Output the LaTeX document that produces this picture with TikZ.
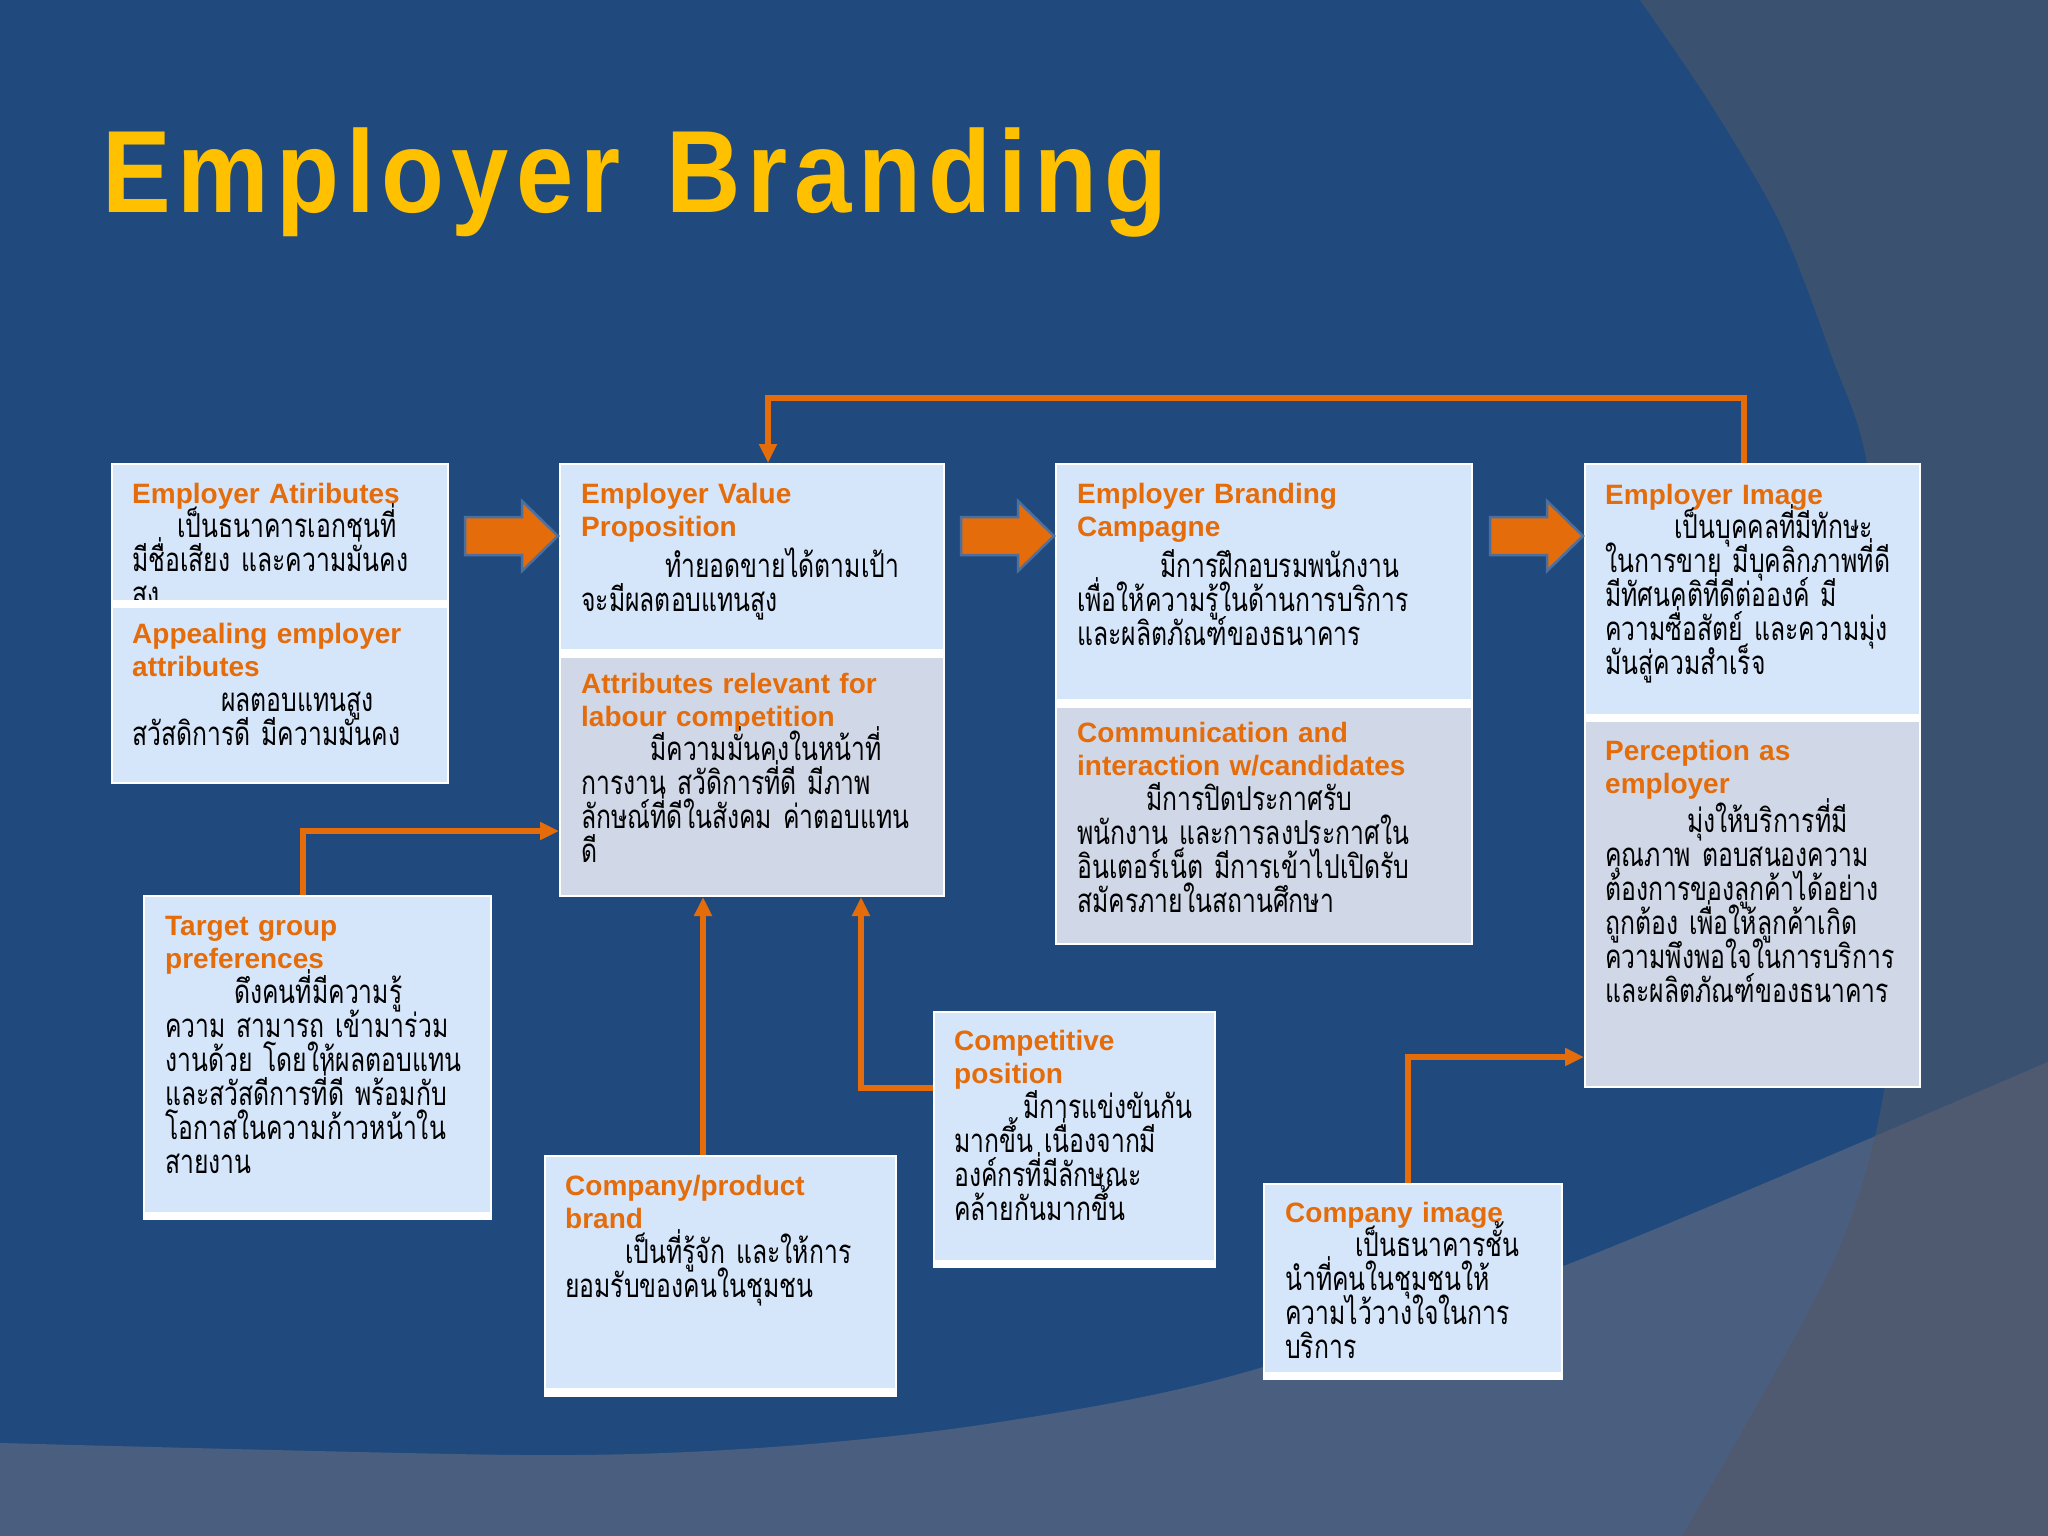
\documentclass[tikz,border=0pt]{standalone}
\usepackage{fontspec}
\usetikzlibrary{arrows.meta}
\newfontfamily\thaifont[Script=Thai,FakeStretch=0.75]{Loma}
\newfontfamily\hfont{Liberation Sans}
\newfontfamily\tfont[FakeStretch=0.88,LetterSpace=6]{Liberation Sans}
\newcommand\nolskip{\lineskiplimit=-100pt\relax}
\definecolor{bgbase}{RGB}{32,74,126}
\definecolor{bgright}{RGB}{59,81,112}
\definecolor{bgband}{RGB}{74,95,127}
\definecolor{bgdark}{RGB}{79,90,113}
\definecolor{boxlight}{RGB}{214,230,250}
\definecolor{boxgray}{RGB}{208,216,232}
\definecolor{orng}{RGB}{228,108,10}
\definecolor{titleyellow}{RGB}{255,192,0}
\definecolor{arrowedge}{RGB}{75,112,160}
\tikzset{
  outerbox/.style={fill=white, draw=none, inner sep=0pt, outer sep=0pt, anchor=north west},
  hd/.style={anchor=base west, inner sep=0pt, text width=420pt, align=left, text=orng,
     font=\hfont\bfseries\fontsize{28}{33.5}\selectfont, execute at begin node=\nolskip},
  th/.style={anchor=base west, inner sep=0pt, text width=480pt, align=left, text=black,
     font=\thaifont\fontsize{33}{34}\selectfont, execute at begin node=\nolskip},
  conn/.style={draw=orng, line width=6.5pt, -{Triangle[length=19pt,width=17pt]}},
  blockarrow/.style={fill=orng, draw=arrowedge, line width=2.5pt, line join=miter}
}
\begin{document}
\begin{tikzpicture}[x=1pt,y=-1pt]
\useasboundingbox (0,0) rectangle (2048,1536);
% background
\fill[bgbase] (0,0) rectangle (2048,1536);
\fill[bgright] plot[smooth] coordinates {(1640,0) (1710,103) (1780,223) (1832,357) (1867,464) (1890,700) (1893,900) (1884,1091) (1832,1265) (1682,1536)} -- (2048,1536) -- (2048,0) -- cycle;
\fill[bgband] plot[smooth] coordinates {(0,1443) (522,1455) (758,1448) (980,1425) (1228,1377) (1566,1265) (2048,1062)} -- (2048,1536) -- (0,1536) -- cycle;
\begin{scope}
\clip plot[smooth] coordinates {(0,1443) (522,1455) (758,1448) (980,1425) (1228,1377) (1566,1265) (2048,1062)} -- (2048,1536) -- (0,1536) -- cycle;
\fill[bgdark] plot[smooth] coordinates {(1640,0) (1710,103) (1780,223) (1832,357) (1867,464) (1890,700) (1893,900) (1884,1091) (1832,1265) (1682,1536)} -- (2048,1536) -- (2048,0) -- cycle;
\end{scope}

% title
\node[anchor=base west, inner sep=0pt, text=titleyellow, font=\tfont\bfseries\fontsize{117}{120}\selectfont] (title) at (102,212) {Employer\hspace{10pt} Branding};

% ---------- Box EA
\node[outerbox, minimum width=338pt, minimum height=321pt] (ea) at (111,463) {};
\fill[boxlight] (113,465) rectangle (447,600);
\node[hd] (eah) at (132,503) {Employer Atiributes};
\node[th] (eat) at (132,537) {\hspace*{45pt}เป็นธนาคารเอกชนที่\\มีชื่อเสียง และความมั่นคง\\สูง};
\fill[white] (113,600) rectangle (447,608);
\fill[boxlight] (113,608) rectangle (447,782);
\node[hd] (eah2) at (132,643) {Appealing employer\\attributes};
\node[th] (eat2) at (132,711) {\hspace*{89pt}ผลตอบแทนสูง\\สวัสดิการดี มีความมั่นคง};

% ---------- Box EVP
\node[outerbox, minimum width=386pt, minimum height=434pt] (evp) at (559,463) {};
\fill[boxlight] (561,465) rectangle (943,649);
\fill[boxgray] (561,658) rectangle (943,895);
\node[hd] (evph) at (581,503) {Employer Value\\Proposition};
\node[th] (evpt) at (581,577) {\hspace*{84pt}ทำยอดขายได้ตามเป้า\\จะมีผลตอบแทนสูง};
\node[hd] (evph2) at (581,693) {Attributes relevant for\\labour competition};
\node[th] (evpt2) at (581,760) {\hspace*{69pt}มีความมั่นคงในหน้าที่\\การงาน สวัดิการที่ดี มีภาพ\\ลักษณ์ที่ดีในสังคม ค่าตอบแทน\\ดี};

% ---------- Box EBC
\node[outerbox, minimum width=418pt, minimum height=482pt] (ebc) at (1055,463) {};
\fill[boxlight] (1057,465) rectangle (1471,699);
\fill[boxgray] (1057,708) rectangle (1471,943);
\node[hd] (ebch) at (1077,503) {Employer Branding\\Campagne};
\node[th] (ebct) at (1077,577) {\hspace*{83pt}มีการฝึกอบรมพนักงาน\\เพื่อให้ความรู้ในด้านการบริการ\\และผลิตภัณฑ์ของธนาคาร};
\node[hd] (ebch2) at (1077,742) {Communication and\\interaction w/candidates};
\node[th] (ebct2) at (1077,810) {\hspace*{69pt}มีการปิดประกาศรับ\\พนักงาน และการลงประกาศใน\\อินเตอร์เน็ต มีการเข้าไปเปิดรับ\\สมัครภายในสถานศึกษา};

% ---------- Box EI
\node[outerbox, minimum width=337pt, minimum height=625pt] (ei) at (1584,463) {};
\fill[boxlight] (1586,465) rectangle (1919,714);
\fill[boxgray] (1586,722) rectangle (1919,1086);
\node[hd] (eih) at (1605,504) {Employer Image};
\node[th] (eit) at (1605,538) {\hspace*{69pt}เป็นบุคคลที่มีทักษะ\\ในการขาย มีบุคลิกภาพที่ดี\\มีทัศนคติที่ดีต่อองค์ มี\\ความซื่อสัตย์ และความมุ่ง\\มันสู่ควมสำเร็จ};
\node[hd] (eih2) at (1605,760) {Perception as\\employer};
\node[th] (eit2) at (1605,832) {\hspace*{82pt}มุ่งให้บริการที่มี\\คุณภาพ ตอบสนองความ\\ต้องการของลูกค้าได้อย่าง\\ถูกต้อง เพื่อให้ลูกค้าเกิด\\ความพึงพอใจในการบริการ\\และผลิตภัณฑ์ของธนาคาร};

% ---------- Box TG
\node[outerbox, minimum width=349pt, minimum height=325pt] (tg) at (143,895) {};
\fill[boxlight] (145,897) rectangle (490,1212);
\node[hd] (tgh) at (165,935) {Target group\\preferences};
\node[th] (tgt) at (165,1003) {\hspace*{69pt}ดึงคนที่มีความรู้\\ความ สามารถ เข้ามาร่วม\\งานด้วย โดยให้ผลตอบแทน\\และสวัสดีการที่ดี พร้อมกับ\\โอกาสในความก้าวหน้าใน\\สายงาน};

% ---------- Box CPB
\node[outerbox, minimum width=353pt, minimum height=242pt] (cpb) at (544,1155) {};
\fill[boxlight] (546,1157) rectangle (895,1388);
\node[hd] (cpbh) at (565,1195) {Company/product\\brand};
\node[th] (cpbt) at (565,1263) {\hspace*{60pt}เป็นที่รู้จัก และให้การ\\ยอมรับของคนในชุมชน};

% ---------- Box CP
\node[outerbox, minimum width=283pt, minimum height=257pt] (cp) at (933,1011) {};
\fill[boxlight] (935,1013) rectangle (1214,1260);
\node[hd] (cph) at (954,1050) {Competitive\\position};
\node[th] (cpt) at (954,1118) {\hspace*{69pt}มีการแข่งขันกัน\\มากขึ้น เนื่องจากมี\\องค์กรที่มีลักษณะ\\คล้ายกันมากขึ้น};

% ---------- Box CI
\node[outerbox, minimum width=300pt, minimum height=197pt] (ci) at (1263,1183) {};
\fill[boxlight] (1265,1185) rectangle (1561,1372);
\node[hd] (cih) at (1285,1222) {Company image};
\node[th] (cit) at (1285,1256) {\hspace*{70pt}เป็นธนาคารชั้น\\นำที่คนในชุมชนให้\\ความไว้วางใจในการ\\บริการ};

% ---------- block arrows
\begin{scope}[shift={(evp.west |- 0,536)}]
\filldraw[blockarrow] (-1,0) -- (-37,-35) -- (-37,-19) -- (-94,-19) -- (-94,19) -- (-37,19) -- (-37,35) -- cycle;
\end{scope}
\begin{scope}[shift={(ebc.west |- 0,536)}]
\filldraw[blockarrow] (-1,0) -- (-37,-35) -- (-37,-19) -- (-94,-19) -- (-94,19) -- (-37,19) -- (-37,35) -- cycle;
\end{scope}
\begin{scope}[shift={(ei.west |- 0,536)}]
\filldraw[blockarrow] (-1,0) -- (-37,-35) -- (-37,-19) -- (-94,-19) -- (-94,19) -- (-37,19) -- (-37,35) -- cycle;
\end{scope}

% ---------- connectors
\coordinate (loopR) at (1744,398);
\coordinate (loopL) at (768,398);
\draw[conn] (ei.north -| loopR) -- (loopR) -- (loopL) -- (loopL |- evp.north);
\coordinate (tgup) at (303,831);
\draw[conn] (tg.north -| tgup) -- (tgup) -- (tgup -| evp.west);
\coordinate (cpbx) at (703,0);
\draw[conn] (cpb.north -| cpbx) -- (cpbx |- evp.south);
\coordinate (cpbend) at (861,1088);
\draw[conn] (cpbend -| cp.west) -- (cpbend) -- (cpbend |- evp.south);
\coordinate (ciup) at (1408,1057);
\draw[conn] (ci.north -| ciup) -- (ciup) -- (ciup -| ei.west);
\end{tikzpicture}
\end{document}
